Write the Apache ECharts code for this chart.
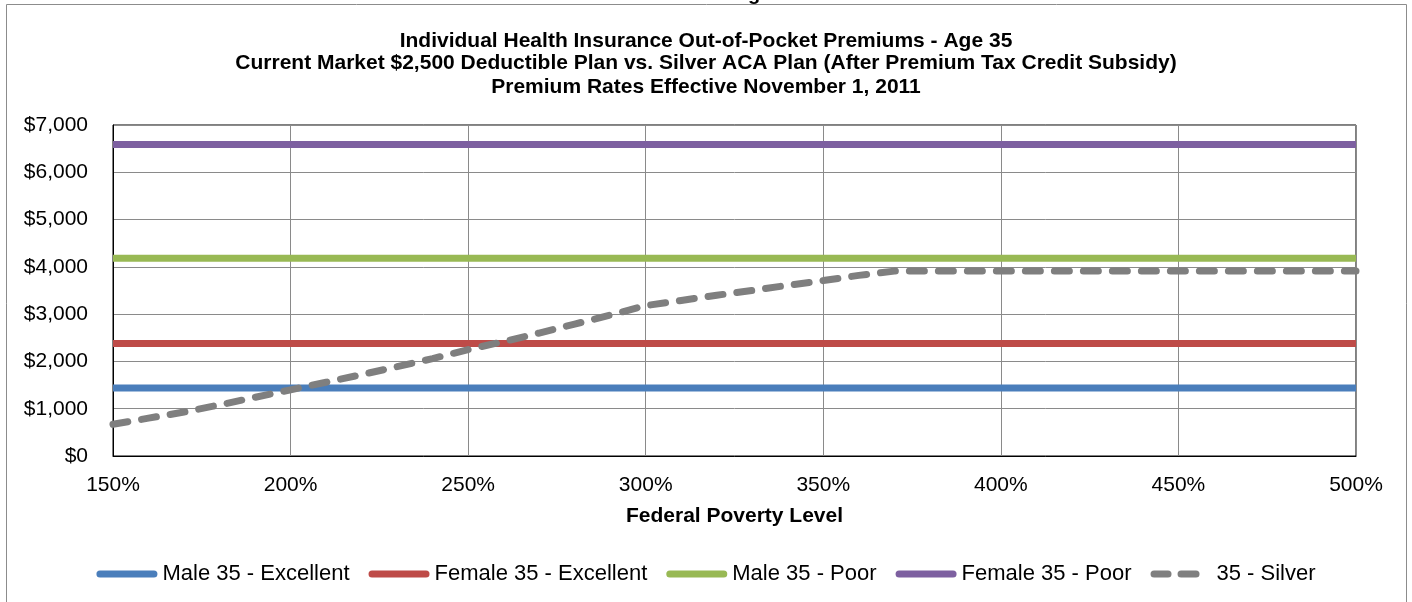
<!DOCTYPE html>
<html>
<head>
<meta charset="utf-8">
<title>Individual Health Insurance Out-of-Pocket Premiums - Age 35</title>
<script src="https://cdn.jsdelivr.net/npm/echarts@6/dist/echarts.min.js"></script>
<style>
    html, body { margin: 0; padding: 0; background: #fff; }
    #main { width: 1412px; height: 602px; }
</style>
</head>
<body>
<div id="main"></div>
<script>
// federal poverty level (%) used for the silver curve
var fplLevels = [150, 160, 170, 180, 190, 200, 210, 220, 230, 240, 250, 260,
    270, 280, 290, 300, 310, 320, 330, 340, 350, 360, 370, 380,
    390, 400, 410, 420, 430, 440, 450, 460, 470, 480, 490, 500];
// 35 - Silver, after premium tax credit
var silverValues = [670, 800, 930, 1080, 1240, 1400, 1560, 1720, 1890, 2060, 2250, 2420,
    2600, 2790, 2980, 3180, 3290, 3400, 3500, 3610, 3710, 3820, 3910, 3910,
    3910, 3910, 3910, 3910, 3910, 3910, 3910, 3910, 3910, 3910, 3910, 3910];
// current market $2,500 deductible plan - flat across FPL
var planNames = ['Male 35 - Excellent', 'Female 35 - Excellent', 'Male 35 - Poor', 'Female 35 - Poor'];
var planPremiums = [1440, 2380, 4180, 6590];
var planColors = ['#4a7ebb', '#be4b48', '#98b954', '#7d60a0'];
var silverName = '35 - Silver';
var xRange = [150, 500];
var titleLines = [
    'Individual Health Insurance Out-of-Pocket Premiums - Age 35',
    'Current Market $2,500 Deductible Plan vs. Silver ACA Plan (After Premium Tax Credit Subsidy)',
    'Premium Rates Effective November 1, 2011'
];

var font = '"Liberation Sans", Arial, sans-serif';

// legend icons: a long pill for solid lines, two short pills for the dashed one
var pillIcon = 'path://M3.5 0 L57.5 0 A3.5 3.5 0 0 1 57.5 7 L3.5 7 A3.5 3.5 0 0 1 3.5 0 Z';
var dashIcon = 'path://M3.5 0 L17.5 0 A3.5 3.5 0 0 1 17.5 7 L3.5 7 A3.5 3.5 0 0 1 3.5 0 Z ' +
    'M30.5 0 L45.5 0 A3.5 3.5 0 0 1 45.5 7 L30.5 7 A3.5 3.5 0 0 1 30.5 0 Z M61 0 L61 7';

var myChart = echarts.init(document.getElementById('main'));

var series = planNames.map(function (name, i) {
    return {
        name: name,
        type: 'line',
        symbol: 'none',
        data: [[xRange[0], planPremiums[i]], [xRange[1], planPremiums[i]]],
        lineStyle: { color: planColors[i], width: 7 },
        itemStyle: { color: planColors[i] },
        z: 3
    };
});
series.push({
    name: silverName,
    type: 'line',
    symbol: 'none',
    data: fplLevels.map(function (x, i) { return [x, silverValues[i]]; }),
    lineStyle: { color: '#7f7f7f', width: 7, type: [15, 14], cap: 'round' },
    itemStyle: { color: '#7f7f7f' },
    z: 4
});

var titleTops = [31, 53, 77];
var option = {
    animation: false,
    backgroundColor: '#fff',
    title: titleLines.map(function (t, i) {
        return {
            text: t,
            left: 'center',
            top: titleTops[i],
            padding: 0,
            textStyle: { fontFamily: font, fontSize: 21, fontWeight: 'bold', color: '#000' }
        };
    }),
    legend: {
        top: 558,
        left: 'center',
        itemGap: 19,
        itemWidth: 61,
        itemHeight: 7,
        textStyle: { fontFamily: font, fontSize: 22, color: '#000' },
        data: planNames.map(function (n) { return { name: n, icon: pillIcon }; })
            .concat([{ name: silverName, icon: dashIcon }])
    },
    grid: {
        left: 113,
        right: 56,
        top: 125,
        bottom: 146,
        show: true,
        borderColor: '#000',
        borderWidth: 1
    },
    xAxis: {
        type: 'value',
        min: 150,
        max: 500,
        interval: 50,
        name: 'Federal Poverty Level',
        nameLocation: 'middle',
        nameGap: 50,
        nameTextStyle: { fontFamily: font, fontSize: 21, fontWeight: 'bold', color: '#000' },
        axisLine: { show: true, lineStyle: { color: '#000' } },
        axisTick: { show: false },
        axisLabel: {
            fontFamily: font, fontSize: 21, color: '#000', margin: 19,
            formatter: '{value}%'
        },
        splitLine: { show: true, lineStyle: { color: '#8a8a8a', width: 1 } }
    },
    yAxis: {
        type: 'value',
        min: 0,
        max: 7000,
        interval: 1000,
        axisLine: { show: true, lineStyle: { color: '#000' } },
        axisTick: { show: false },
        axisLabel: {
            fontFamily: font, fontSize: 21, color: '#000', margin: 25,
            formatter: function (v) {
                return '$' + v.toString().replace(/\B(?=(\d{3})+(?!\d))/g, ',');
            }
        },
        splitLine: { show: true, lineStyle: { color: '#8a8a8a', width: 1 } }
    },
    graphic: [
        {
            // outer chart area border
            type: 'rect',
            shape: { x: 6.5, y: 4.5, width: 1400, height: 620 },
            style: { fill: 'none', stroke: '#8c8c8c', lineWidth: 1 },
            silent: true,
            z: -1
        },
        {
            // clipped text above the chart frame
            type: 'text',
            left: 748,
            top: -16,
            style: { text: 'g', font: 'bold 20px ' + font, fill: '#000' },
            silent: true
        }
    ],
    series: series
};

myChart.setOption(option);
window.onresize = function () {
    myChart.resize();
};
</script>
</body>
</html>
